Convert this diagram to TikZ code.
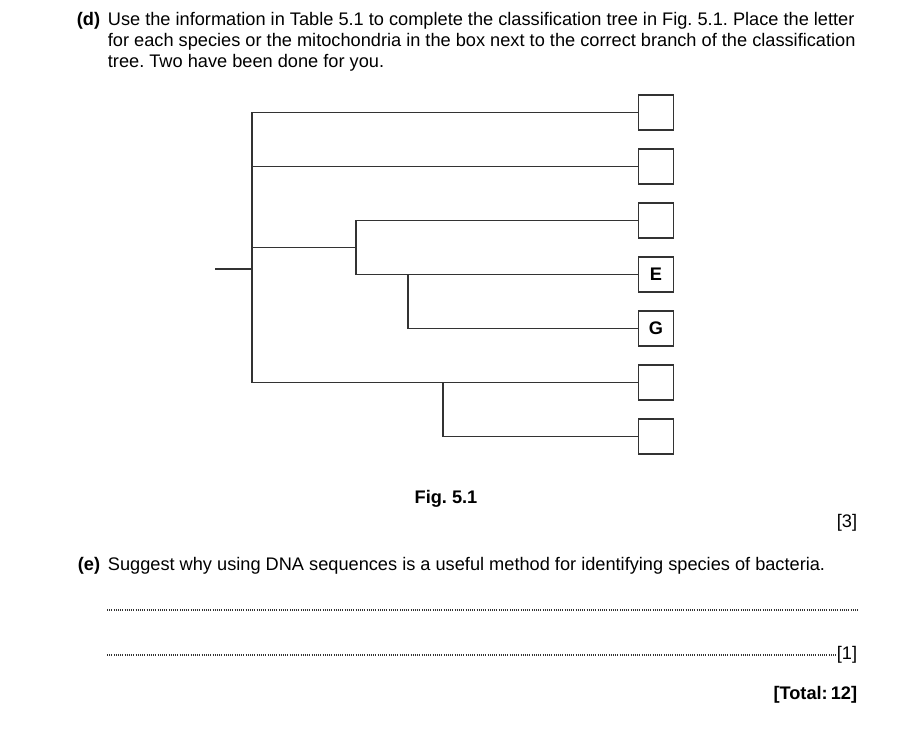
\documentclass[tikz,border=0pt]{standalone}
\usepackage{fontspec}
\setmainfont{Liberation Sans}
\usepackage{tikz}
\frenchspacing

\begin{document}
\begin{tikzpicture}[x=1pt, y=-1pt, line width=1.8pt, draw=black!80,
    txt/.style={anchor=base west, inner sep=0pt, font=\fontsize{18.2}{21}\selectfont},
    bold/.style={font=\fontsize{18.2}{21}\selectfont\bfseries},
    leafbox/.style={draw=black!80, line width=1.8pt, minimum size=35pt, inner sep=0pt, font=\fontsize{18.2}{21}\selectfont\bfseries},
    answer/.style={black!80, line width=1.1pt, dash pattern=on 1pt off 1.2pt}]
  \useasboundingbox (0,0) rectangle (904,744);
  % question (d)
  \node[txt, bold, anchor=base east] (qd) at (101,25) {(d)};
  \node[txt] (d1) at (107,25) {Use the information in Table 5.1 to complete the classification tree in Fig. 5.1. Place the letter};
  \node[txt] (d2) at (107,46) {for each species or the mitochondria in the box next to the correct branch of the classification};
  \node[txt] (d3) at (107,67) {tree. Two have been done for you.};
  % tree
  \node[leafbox] (b1) at (656,112.5) {};
  \node[leafbox] (b2) at (656,166.5) {};
  \node[leafbox] (b3) at (656,220.5) {};
  \node[leafbox] (b4) at (656,274.5) {E};
  \node[leafbox] (b5) at (656,328.5) {G};
  \node[leafbox] (b6) at (656,382.5) {};
  \node[leafbox] (b7) at (656,436.5) {};
  \coordinate (root) at (215,269);
  \coordinate (n0) at (252,269);
  \coordinate (nA) at (356,247.5);
  \coordinate (nB) at (408,274.5);
  \coordinate (nC) at (443,382.5);
  \draw (root) -- (n0);
  \draw (b1.west) -- (b1.west -| n0) -- (b6.west -| n0) -- (b6.west);
  \draw (n0 |- b2.west) -- (b2.west);
  \draw (n0 |- nA) -- (nA);
  \draw (b3.west) -| (nA) |- (b4.west);
  \draw (nB) |- (b5.west);
  \draw (nC) |- (b7.west);
  \node[txt, bold, anchor=base] (fig) at (446,503) {Fig. 5.1};
  \node[txt, anchor=base east] (m3) at (858,527) {[3]};
  % question (e)
  \node[txt, bold, anchor=base east] (qe) at (101,570) {(e)};
  \node[txt] (e1) at (107,570) {Suggest why using DNA sequences is a useful method for identifying species of bacteria.};
  \coordinate (l1a) at (107,610);
  \coordinate (l1b) at (858,610);
  \coordinate (l2a) at (107,655);
  \node[txt, anchor=base east] (m1) at (858,659) {[1]};
  \draw[answer] (l1a) -- (l1b);
  \draw[answer] (l2a) -- (l2a -| m1.west);
  \node[txt, bold, anchor=base east] (tot) at (858,699) {[Total:\,12]};
\end{tikzpicture}
\end{document}
